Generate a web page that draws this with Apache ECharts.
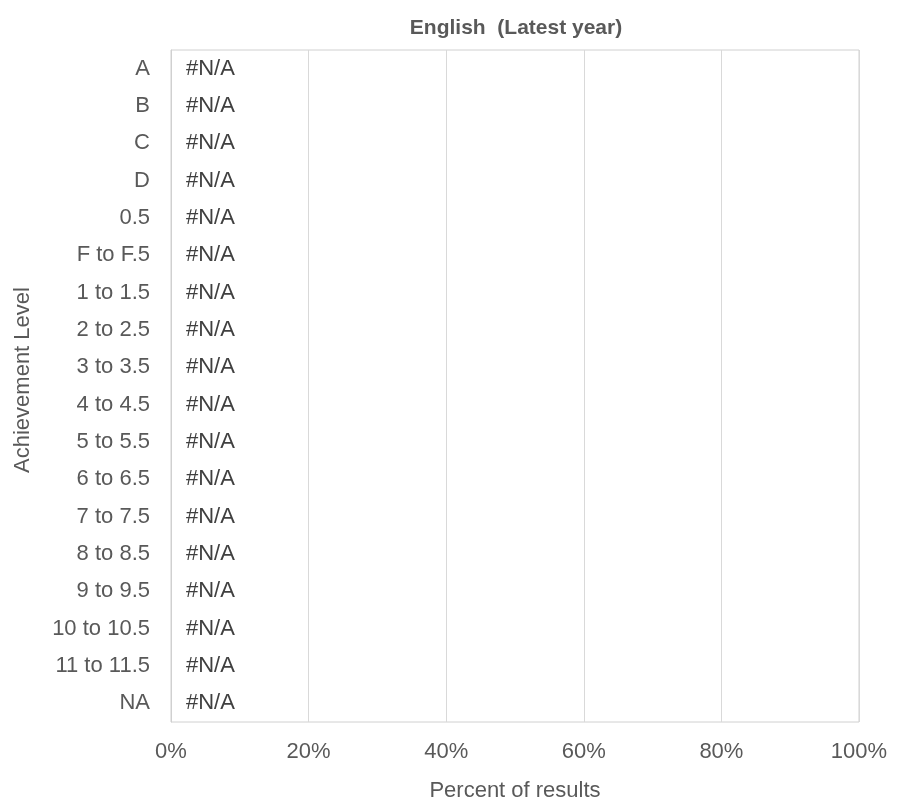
<!DOCTYPE html>
<html><head><meta charset="utf-8">
<script src="https://cdn.jsdelivr.net/npm/echarts@6/dist/echarts.min.js"></script>
<style>html,body{margin:0;padding:0;background:#fff}#c{width:907px;height:807px}</style>
</head><body><div id="c"></div>
<script>
const categories = ['A','B','C','D','0.5','F to F.5','1 to 1.5','2 to 2.5','3 to 3.5','4 to 4.5','5 to 5.5','6 to 6.5','7 to 7.5','8 to 8.5','9 to 9.5','10 to 10.5','11 to 11.5','NA'];
const values = [0,0,0,0,0,0,0,0,0,0,0,0,0,0,0,0,0,0];
const labelTexts = ['#N/A','#N/A','#N/A','#N/A','#N/A','#N/A','#N/A','#N/A','#N/A','#N/A','#N/A','#N/A','#N/A','#N/A','#N/A','#N/A','#N/A','#N/A'];
const xTicks = [0,0.2,0.4,0.6,0.8,1];

const chart = echarts.init(document.getElementById('c'));
const FONT = '"Liberation Sans", Arial, sans-serif';
chart.setOption({
  animation:false,
  textStyle:{fontFamily:FONT},
  title:{text:'English  (Latest year)',left:511,top:13,textAlign:'center',
    textStyle:{fontFamily:FONT,fontSize:21,fontWeight:'bold',color:'#595959'}},
  grid:{left:171,right:48,top:50,bottom:81,show:true,borderColor:'#d0d0d0',borderWidth:1,containLabel:false},
  xAxis:{type:'value',min:0,max:1,interval:0.2,
    axisLine:{show:false},axisTick:{show:false},
    splitLine:{lineStyle:{color:'#d9d9d9',width:1}},
    axisLabel:{formatter:v=>Math.round(v*100)+'%',color:'#595959',fontSize:22,margin:19,fontFamily:FONT},
    name:'Percent of results',nameLocation:'middle',nameGap:58,
    nameTextStyle:{color:'#595959',fontSize:22,fontFamily:FONT}},
  yAxis:{type:'category',data:categories,inverse:true,
    axisLine:{show:true,lineStyle:{color:'#d0d0d0'}},axisTick:{show:false},
    axisLabel:{color:'#595959',fontSize:22,margin:21,fontFamily:FONT},
    name:'Achievement Level',nameLocation:'middle',nameGap:137,nameRotate:90,
    nameTextStyle:{color:'#595959',fontSize:22,fontFamily:FONT,padding:[0,0,0,12]}},
  series:[{type:'bar',data:values,barWidth:'60%',itemStyle:{color:'#4472c4'},
    label:{show:true,position:'right',distance:15,color:'#404040',fontSize:22,fontFamily:FONT,
      formatter:p=>labelTexts[p.dataIndex]}}]
});
</script></body></html>
